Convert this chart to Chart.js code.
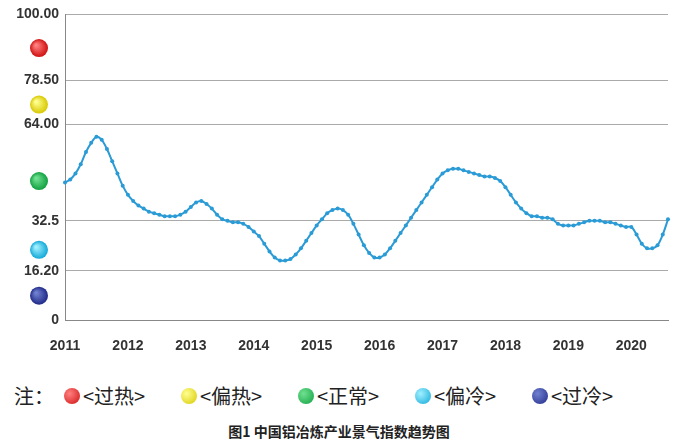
<!DOCTYPE html>
<html><head><meta charset="utf-8">
<script src="https://cdn.jsdelivr.net/npm/chart.js@4/dist/chart.umd.min.js"></script>
<style>
body{margin:0;background:#fff;width:678px;height:442px;overflow:hidden;font-family:"Noto Sans CJK SC",sans-serif}
#wrap{position:relative;width:678px;height:365px}
#legend{position:absolute;top:381px;left:14px;font-size:20px;color:#222;display:flex;align-items:center}
.dot{display:inline-block;width:16px;height:16px;border-radius:50%;margin:0 3px 0 0}
.item{display:inline-flex;align-items:center;width:117px}
#title{position:absolute;top:421px;width:678px;text-align:center;font-size:14px;font-weight:bold;color:#222}
</style></head><body>
<div id="wrap"><canvas id="c" width="678" height="365"></canvas></div>
<div id="legend"><span style="width:50px">注：</span><span class="item"><span class="dot" style="background:radial-gradient(circle at 35% 35%,#ff8080,#d01010)"></span>&lt;过热&gt;</span><span class="item"><span class="dot" style="background:radial-gradient(circle at 35% 35%,#ffff90,#d8c800)"></span>&lt;偏热&gt;</span><span class="item"><span class="dot" style="background:radial-gradient(circle at 35% 35%,#70e090,#10a040)"></span>&lt;正常&gt;</span><span class="item"><span class="dot" style="background:radial-gradient(circle at 35% 35%,#a0f0ff,#10a8d8)"></span>&lt;偏冷&gt;</span><span class="item"><span class="dot" style="background:radial-gradient(circle at 35% 35%,#7080d0,#202a88)"></span>&lt;过冷&gt;</span></div>
<div id="title">图1 中国铝冶炼产业景气指数趋势图</div>
<script>
const years=[2011,2012,2013,2014,2015,2016,2017,2018,2019,2020];
const values=[
45,46,48,51,55,58,60,59,56,52,48,44,
41,39,37.5,36.5,35.5,35,34.5,34,34,34,34.5,35.5,
37,38.5,39,38,36.5,34.5,33,32.5,32,32,31.5,30.5,
29,27.5,25,22.5,20.5,19.5,19.5,20,21.5,23.5,26,28.5,
31,33,35,36,36.5,36,34.5,31.5,28,24.5,22,20.5,
20.5,21.5,23.5,26,28.5,31,33.5,36,38.5,41,43.5,46,
48,49,49.5,49.5,49,48.5,48,47.5,47,47,46.5,45.5,
43.5,41,38.5,36.5,35,34,34,33.5,33.5,33,31.5,31,
31,31,31.5,32,32.5,32.5,32.5,32,32,31.5,31,30.5,
30.5,28,25,23.5,23.5,24.5,28,33];
const yTicks=[0,16.2,32.5,64,78.5,100];
const yTickLabels=["0","16.20","32.5","64.00","78.50","100.00"];
const markerLevels=[89,70.5,45.5,23,8];
const markerColors=[["#ff8080","#d01010"],["#ffff90","#d8c800"],["#70e090","#10a040"],["#a0f0ff","#10a8d8"],["#7080d0","#202a88"]];
const labels=values.map((v,i)=>years[0]+Math.floor(i/12)+"-"+(i%12+1));
const markers={id:'markers',afterDraw(ch){const c=ch.ctx,y=ch.scales.y;markerLevels.forEach((v,i)=>{const py=y.getPixelForValue(v),px=39;const g=c.createRadialGradient(px-3,py-3,1,px,py,9);g.addColorStop(0,markerColors[i][0]);g.addColorStop(1,markerColors[i][1]);c.beginPath();c.arc(px,py,9,0,Math.PI*2);c.fillStyle=g;c.fill();});}};
new Chart(document.getElementById('c'),{type:'line',data:{labels,datasets:[{data:values,borderColor:'#2b9bd6',backgroundColor:'#2b9bd6',borderWidth:2,pointRadius:2,pointBorderWidth:0,tension:0.3}]},
options:{responsive:false,animation:false,layout:{padding:{top:6,right:6,left:0}},plugins:{legend:{display:false},tooltip:{enabled:false}},
scales:{x:{type:'category',offset:false,grid:{display:false},border:{color:'#888'},ticks:{autoSkip:false,maxRotation:0,color:'#333',font:{size:14,weight:'bold',family:'Liberation Sans'},padding:10,callback:(v,i)=>i%12===0?String(years[i/12]):''}},
y:{min:0,max:100,afterBuildTicks:a=>{a.ticks=yTicks.map(v=>({value:v}))},afterFit:a=>{a.width=65},grid:{color:'#aaa',drawTicks:false},border:{color:'#888'},ticks:{color:'#333',padding:6,font:{size:14,weight:'bold',family:'Liberation Sans'},callback:v=>yTickLabels[yTicks.indexOf(v)]}}}},plugins:[markers]});
</script></body></html>
